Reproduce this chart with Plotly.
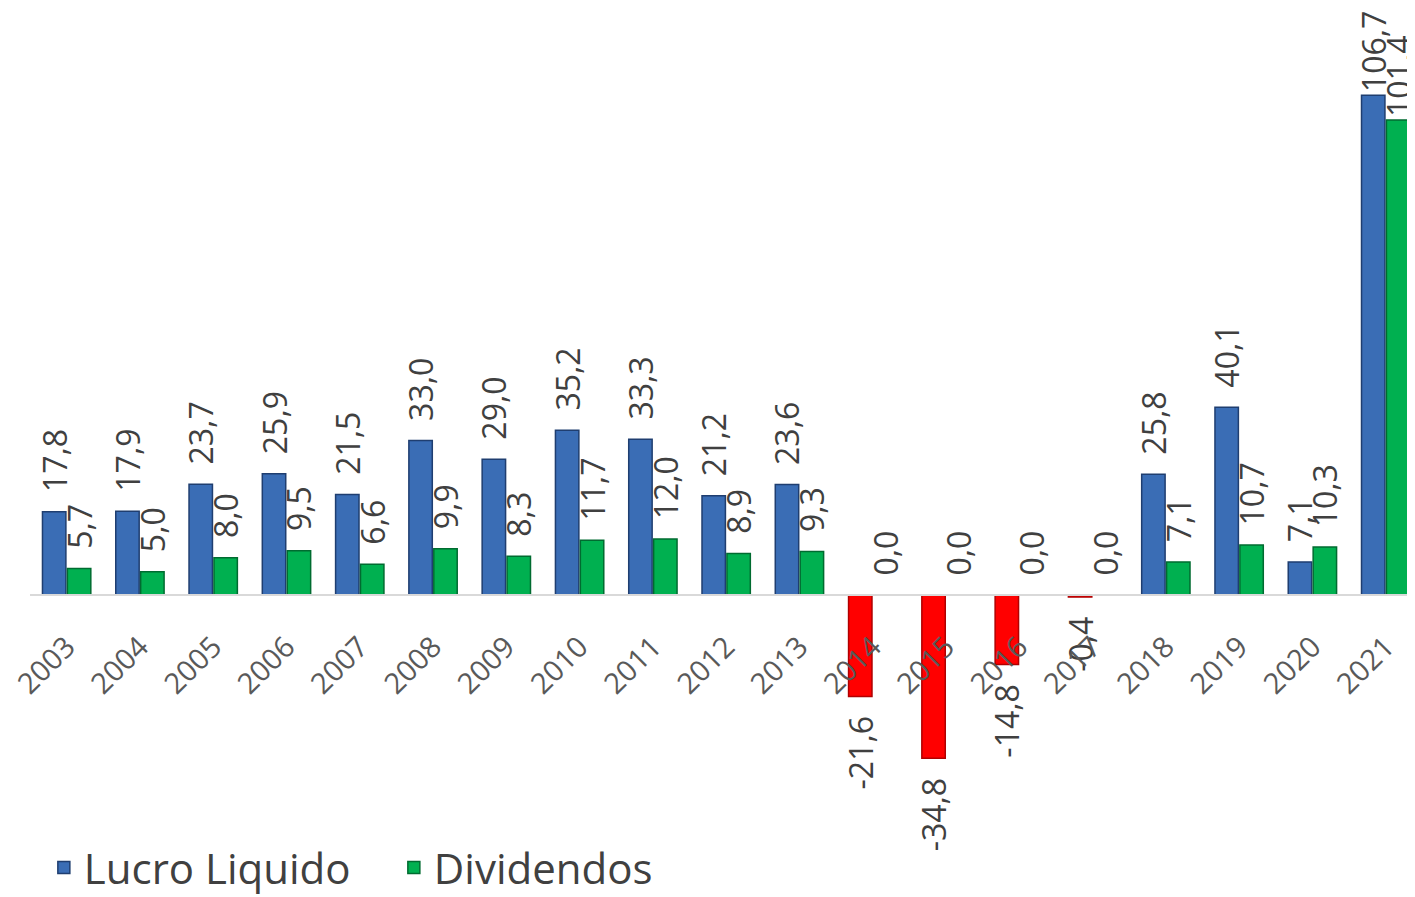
import plotly.graph_objects as go

anos = [str(a) for a in range(2003, 2022)]
lucro = [17.8, 17.9, 23.7, 25.9, 21.5, 33.0, 29.0, 35.2, 33.3, 21.2, 23.6,
         -21.6, -34.8, -14.8, -0.4, 25.8, 40.1, 7.1, 106.7]
dividendos = [5.7, 5.0, 8.0, 9.5, 6.6, 9.9, 8.3, 11.7, 12.0, 8.9, 9.3,
              0.0, 0.0, 0.0, 0.0, 7.1, 10.7, 10.3, 101.4]

def fmt(v):
    s = f"{v:.1f}".replace(".", ",")
    pad = "\u00a0\u00a0" if abs(v) < 100 else ""
    return s + pad if v < 0 else pad + s

ymin, ymax = -64.4, 125.3
zero_pos = (0 - ymin) / (ymax - ymin)

lucro_colors = ["#3A6DB5" if v >= 0 else "#FF0000" for v in lucro]
lucro_lines = ["#1F3E70" if v >= 0 else "#B00000" for v in lucro]

FONT = "Open Sans, Lato, sans-serif"
label_font = dict(family=FONT, size=32, color="#404040")

fig = go.Figure()
fig.add_trace(go.Bar(
    x=anos, y=lucro, name="Lucro Liquido",
    marker=dict(color=lucro_colors, line=dict(color=lucro_lines, width=1.5)),
    text=[fmt(v) for v in lucro], textposition="outside", textangle=-90,
    textfont=label_font, cliponaxis=False, constraintext="none",
))
fig.add_trace(go.Bar(
    x=anos, y=dividendos, name="Dividendos",
    marker=dict(color="#00B050", line=dict(color="#006B30", width=1.5)),
    text=[fmt(v) for v in dividendos], textposition="outside", textangle=-90,
    textfont=label_font, cliponaxis=False, constraintext="none",
))

fig.update_layout(
    width=1407, height=889,
    margin=dict(l=22, r=0, t=0, b=0, autoexpand=False),
    paper_bgcolor="white", plot_bgcolor="white",
    barmode="group", bargap=0.32, bargroupgap=0.06,
    showlegend=True,
    legend=dict(orientation="h", x=0.010, y=0.033, xanchor="left", yanchor="middle",
                font=dict(family=FONT, size=42, color="#404040"),
                itemwidth=30, traceorder="normal",
                entrywidth=305, entrywidthmode="pixels",
                bgcolor="rgba(0,0,0,0)"),
    xaxis=dict(
        type="category", range=[-0.5, 18.4], automargin=False,
        anchor="free", position=zero_pos,
        showline=True, linecolor="#D9D9D9", linewidth=2,
        showgrid=False, ticks="", tickangle=-45,
        tickfont=dict(family=FONT, size=29, color="#595959"),
        ticklabelstandoff=22, ticklabelshift=0,
    ),
    yaxis=dict(range=[ymin, ymax], visible=False, showgrid=False, zeroline=False,
               automargin=False),
)

fig.write_html("out.html")
